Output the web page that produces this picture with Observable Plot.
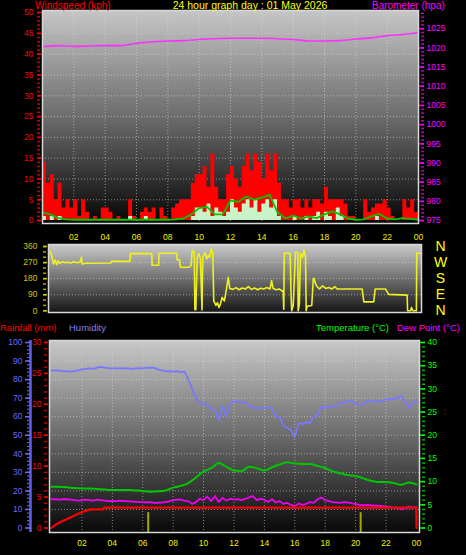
<!DOCTYPE html>
<html><head><meta charset="utf-8">
<script src="https://cdn.jsdelivr.net/npm/d3@7"></script>
<script src="https://cdn.jsdelivr.net/npm/@observablehq/plot@0.6"></script>
<style>
html,body{margin:0;padding:0;background:#000;}
#chart{position:relative;width:466px;height:555px;background:#000;overflow:hidden;font-family:"Liberation Sans",Arial,sans-serif;}
#chart svg{position:absolute;left:0;top:0;}
.t{position:absolute;font-size:10px;line-height:11px;white-space:nowrap;}
</style></head><body><div id="chart"></div>
<script>
// ---------- data ----------
const titleMain = "24 hour graph day : 01 May 2026";
// wind gust (kph), every 15 minutes from 00:00
const windGust = [14,9,11,5, 9,3,5,3, 5,1,5,2, 0,1,0,3, 3,2,0,1, 0,0,5,1, 0,2,3,2, 3,0,3,1,
  0,3,4,5, 5,5,9,11, 11,13,8,16, 8,5,5,11, 13,10,8,13, 16,12,16,14, 10,16,12,16, 9,5,5,3,
  5,5,3,5, 3,5,5,4, 8,5,5,5, 5,4,1,1, 0,0,5,2, 3,4,4,5, 3,1,0,0, 5,3,5,2];
// wind speed (kph), every 15 minutes
const windSpeed = [1,0,1,0, 1,0,0,0, 0,0,0,0, 0,0,0,0, 0,0,0,0, 0,0,1,0, 0,0,1,0, 0,0,0,0,
  0,0,0,0, 0,0,1,3, 3,2,4,1, 3,2,1,2, 5,3,2,4, 5,3,5,2, 4,5,3,5, 1,0,0,0,
  1,0,0,1, 0,1,2,0, 2,1,0,3, 1,0,0,0, 0,0,0,0, 0,1,0,0, 0,0,0,0, 0,0,0,0];
// average wind (kph), every 30 minutes 00:00..24:00
const windAvg = [2.0,1.5,0.6,0.3,0.2,0.2,0.2,0.2,0.2,0.2,0.2,0.2,0.2,0.2,0.2,0.2,0.2,0.3,0.5,1.5,
  3.0,3.3,1.5,1.5,4.8,4.5,5.8,5.0,5.5,6.2,2.0,0.5,1.2,0.5,1.0,0.6,1.5,2.2,1.5,0.5,
  0.2,0.3,1.0,1.6,0.5,0.3,0.6,0.4,0.2];
// barometer (hPa), hourly 00..24
const baroHourly = [1020.3,1020.6,1020.4,1020.5,1020.6,1020.6,1021.2,1021.6,1021.8,1021.9,1022.2,1022.4,
  1022.5,1022.5,1022.5,1022.4,1022.2,1021.8,1021.8,1021.9,1022.3,1022.6,1023.2,1023.5,1024.0];
// wind direction (degrees) at given hours
const dirHours = [0,0.1,0.2,0.3,0.4,0.5,0.6,0.75,0.9,1.1,1.3,1.5,1.7,1.9,2.0,2.05,2.3,3.9,3.95,5.15,5.17,
  6.55,6.57,7.0,7.02,8.17,8.19,8.35,8.4,8.95,9.05,9.1,9.16,9.3,9.34,9.4,9.49,9.6,9.7,9.8,9.85,10.0,10.1,10.2,
  10.3,10.4,10.5,10.56,10.7,10.8,10.9,11.0,11.1,11.25,11.4,11.5,11.6,11.8,12.0,12.2,12.4,12.6,12.8,13.0,13.2,
  13.4,13.6,13.8,14.0,14.2,14.3,14.4,14.6,14.8,15.0,15.05,15.09,15.12,15.5,15.56,15.6,15.7,15.85,16.0,16.02,
  16.1,16.17,16.3,16.4,16.5,16.54,16.6,16.9,17.0,17.03,17.2,17.4,17.6,17.8,18.0,18.2,18.4,18.54,20.16,20.27,
  20.91,21.0,21.67,21.75,21.88,23.07,23.1,23.3,23.35,23.45,23.67,23.69,24.0];
const dirDegrees = [330,300,262,285,258,280,265,275,270,272,268,275,270,272,300,262,266,268,277,277,320,
  320,255,255,322,322,285,285,244,244,250,255,338,330,6,6,300,320,290,5,300,325,290,310,
  300,347,320,56,30,45,19,40,75,55,131,187,125,120,130,118,128,122,135,120,128,
  118,126,122,130,122,169,125,118,122,110,115,9,322,322,94,0,30,328,328,0,
  40,320,300,340,300,0,25,30,178,182,140,122,140,125,130,122,135,122,122,50,
  50,122,122,110,92,88,0,0,19,0,0,322,322];
// humidity (%), every 15 minutes 00:00..24:00
const humidity = [85,84.8,85,84.5, 84.5,84.3,84.5,85, 85.5,85.8,86,85.8, 86.5,86.8,86.5,86.2,
  86,86,86.2,86, 86,85.8,86,86.2, 86,86.3,86.5,86.3, 85.5,85,84.5,84.5, 84.3,84.5,84,84.3,
  80,75,70,67.8, 66.5,66.5,64,63.5, 58,66,60,67.5, 68,68.3,68,67.5, 66,64.6,64.6,64.6,
  64.6,65,64.5,60, 60,55,54,52.8, 49,56.5,56,57, 56.5,60,61,65.5, 65,65,65.5,66,
  67.5,67.5,68.5,68.5, 67,66.5,66.6,68.5, 68.5,68,68.5,68.5, 69.4,69.4,69.4,70, 71,68,64.6,68, 68];
// temperature (°C), every 30 minutes 00:00..24:00
const temperature = [8.9,8.9,8.8,8.6,8.5,8.5,8.4,8.3,8.2,8.2,8.2,8.1,8.0,7.8,7.9,8.1,8.7,9.1,9.7,10.9,
  12.2,12.9,14.0,13.2,12.4,12.3,13.2,12.9,12.4,13.1,13.7,14.2,13.9,13.8,13.8,13.4,12.9,12.2,11.8,11.4,
  11.2,10.7,10.2,9.9,9.9,9.7,9.3,9.8,9.4];
// dew point (°C), every 15 minutes 00:00..24:00
const dewPoint = [6.2,6.2,6.1,6.2, 6.2,6.1,6.0,5.9, 6.0,6.1,6.0,5.9, 6.1,6.0,5.9,5.8, 5.8,5.8,5.9,5.8,
  5.8,5.7,5.7,5.6, 5.6,5.5,5.6,5.4, 5.4,5.5,5.6,5.8, 6.0,6.1,6.1,5.9, 5.8,5.2,5.6,6.3,
  6.0,6.8,5.8,6.9, 5.6,6.5,5.9,6.3, 6.1,6.2,6.0,6.3, 6.6,6.9,6.0,6.3, 6.1,5.6,6.2,5.5,
  5.8,5.2,5.4,5.0, 4.6,5.3,5.0,5.2, 5.6,5.4,6.2,6.6, 6.0,5.8,5.6,5.5, 5.4,5.6,5.5,5.3,
  5.2,5.0,4.9,5.0, 4.9,4.8,4.8,4.7, 4.6,4.5,4.4,4.4, 4.0,4.3,4.6,4.4, 4.5];
// rainfall (mm, cumulative)
const rainHours = [0,0.25,0.5,0.75,1,1.25,1.5,1.75,2,2.25,2.5,3.4,3.45,24,24];
const rainMm = [0,0.5,0.85,1.15,1.4,1.7,2.0,2.3,2.55,2.75,3.0,3.0,3.3,3.3,0];
// olive markers in the lower panel (hour, top in °C units)
const markerHours = [6.36, 20.33];
const markerTop = [3.3, 3.3];

const hourTicks = [2,4,6,8,10,12,14,16,18,20,22,24];
const windTicks = [0,5,10,15,20,25,30,35,40,45,50];
const baroTicks = [975,980,985,990,995,1000,1005,1010,1015,1020,1025];
const dirTicks = [0,90,180,270,360];
const compass = ["N","E","S","W","N"];
const humTicks = [0,10,20,30,40,50,60,70,80,90,100];
const rainTicks = [0,5,10,15,20,25,30];
const tempTicks = [0,5,10,15,20,25,30,35,40];

// ---------- helpers ----------
const W = 466, H = 555;
const font = {background:"transparent", fontFamily:"'Liberation Sans',Arial,sans-serif", fontSize:"8.5px", overflow:"visible"};
const gradient = (id, stops) => () => {
  const defs = d3.create("svg:defs");
  const g = defs.append("linearGradient").attr("id", id).attr("x1",0).attr("y1",0).attr("x2",0).attr("y2",1);
  stops.forEach(([o,c]) => g.append("stop").attr("offset",o).attr("stop-color",c));
  return defs.node();
};
const grid = {stroke:"#e0e0e0", strokeOpacity:0.55, strokeDasharray:"1,2"};
const hourFmt = h => String(h % 24).padStart(2,"0");
// minor tick marks only (no labels)
const minor = (ticks, o) => Plot.axisY(ticks, {tickSize:3, fill:"none", strokeWidth:1.5, label:null, ...o});

// ---------- panel 1 : wind + barometer ----------
const windRows = windGust.map((g,i) => ({t:i*0.25, gust:g, speed:windSpeed[i]}));
windRows.push({t:24, gust:windGust[windGust.length-1], speed:windSpeed[windSpeed.length-1]});
const avgRows = windAvg.map((v,i) => ({t:i*0.5, v}));
const baroLo = 975, baroHi = 1029.2;
const baroToWind = b => (b - baroLo) * 50 / (baroHi - baroLo);
const baroRows = baroHourly.map((b,i) => ({t:i, w:baroToWind(b)}));

const p1 = Plot.plot({
  width: W, height: H, marginTop: 10, marginBottom: 332, marginLeft: 42, marginRight: 48,
  x: {domain: [0,24], label: null}, y: {domain: [-0.7, 50.5], label: null},
  style: font,
  marks: [
    gradient("g1", [[0,"#c6c6c6"],[0.5,"#6c6c6c"],[1,"#050505"]]),
    Plot.frame({fill:"url(#g1)"}),
    Plot.gridX(hourTicks.slice(0,-1), grid),
    Plot.gridY(windTicks.slice(1,-1), grid),
    Plot.areaY(windRows, {x:"t", y:"gust", curve:"step-after", fill:"#ff0000"}),
    Plot.areaY(windRows, {x:"t", y:"speed", curve:"step-after", fill:"#c8f4c8"}),
    Plot.line(avgRows, {x:"t", y:"v", stroke:"#00c800", strokeWidth:1.8}),
    Plot.line(baroRows, {x:"t", y:"w", stroke:"#ff30ff", strokeWidth:1.6, curve:"monotone-x"}),
    Plot.frame({stroke:"#d8d8d8", strokeWidth:1.5}),
    minor(d3.range(0, 51, 1), {anchor:"left", dx:-2, stroke:"#d00000"}),
    Plot.axisY(windTicks, {anchor:"left", tickSize:5, tickPadding:4, stroke:"#ff0000", fill:"#ff0000", strokeWidth:1.5, label:null}),
    minor(d3.range(975, 1030, 1).map(baroToWind), {anchor:"right", dx:2, stroke:"#c000c0"}),
    Plot.axisY(baroTicks.map(baroToWind), {anchor:"right", tickSize:5, tickPadding:3, stroke:"#ff00ff", fill:"#ff00ff", strokeWidth:1.5,
      tickFormat: w => String(Math.round(baroLo + w * (baroHi - baroLo) / 50)), label:null}),
    Plot.axisX(hourTicks, {anchor:"bottom", tickSize:0, tickPadding:10, tickFormat:hourFmt, fill:"#f0f000", label:null})
  ]
});

// ---------- panel 2 : wind direction ----------
const dirRows = dirHours.map((t,i) => ({t, d:dirDegrees[i]}));
const p2 = Plot.plot({
  width: W, height: H, marginTop: 244, marginBottom: 243, marginLeft: 48, marginRight: 45,
  x: {domain: [-0.13, 24], label: null}, y: {domain: [-9.6, 371.3], label: null},
  style: font,
  marks: [
    gradient("g2", [[0,"#cacaca"],[0.5,"#707070"],[1,"#151515"]]),
    Plot.frame({fill:"url(#g2)"}),
    Plot.gridY(dirTicks.slice(1,-1), grid),
    Plot.line(dirRows, {x:"t", y:"d", stroke:"#f0f020", strokeWidth:1.6}),
    Plot.frame({stroke:"#d8d8d8", strokeWidth:1.5}),
    minor(d3.range(0, 361, 30), {anchor:"left", dx:-2, stroke:"#a8a800"}),
    Plot.axisY(dirTicks, {anchor:"left", tickSize:4, tickPadding:6, dx:-1, stroke:"#c8c800", fill:"#c8c800", strokeWidth:1.5, label:null}),
    Plot.axisY(dirTicks, {anchor:"right", tickSize:0, tickPadding:19, textAnchor:"middle", fill:"#ffff00", fontSize:14,
      tickFormat:(d) => compass[dirTicks.indexOf(d)], label:null})
  ]
});

// ---------- panel 3 : rain, humidity, temperature, dew point ----------
const humToC = v => v * 0.4;
const rainToC = v => v * 40 / 30;
const humRows = humidity.map((v,i) => ({t:i*0.25, c:humToC(v)}));
const tempRows = temperature.map((v,i) => ({t:i*0.5, c:v}));
const dewRows = dewPoint.map((v,i) => ({t:i*0.25, c:v}));
const rainRows = rainHours.map((t,i) => ({t, c:rainToC(rainMm[i])}));
const markerRows = markerHours.map((t,i) => ({t, top:markerTop[i]}));
const x3 = [-0.13, 24.2], y3 = [-0.97, 40.43];

const p3 = Plot.plot({
  width: W, height: H, marginTop: 340, marginBottom: 23, marginLeft: 49, marginRight: 47,
  x: {domain: x3, label: null}, y: {domain: y3, label: null},
  style: font,
  marks: [
    gradient("g3", [[0,"#c8c8c8"],[0.5,"#6a6a6a"],[1,"#080808"]]),
    Plot.frame({fill:"url(#g3)"}),
    Plot.gridX(hourTicks.slice(0,-1), grid),
    Plot.gridY(humTicks.slice(1,-1).map(humToC), grid),
    Plot.ruleX(markerRows, {x:"t", y1:y3[0], y2:"top", stroke:"#a8a800", strokeWidth:2}),
    Plot.line(humRows, {x:"t", y:"c", stroke:"#7878ff", strokeWidth:1.8}),
    Plot.line(tempRows, {x:"t", y:"c", stroke:"#00c800", strokeWidth:2, curve:"monotone-x"}),
    Plot.line(dewRows, {x:"t", y:"c", stroke:"#f000f0", strokeWidth:1.8}),
    Plot.line(rainRows, {x:"t", y:"c", stroke:"#ff0000", strokeWidth:2.2}),
    Plot.frame({stroke:"#d8d8d8", strokeWidth:1.5}),
    // humidity axis (far left)
    Plot.ruleX([x3[0]], {dx:-19, stroke:"#6060e8", strokeWidth:2.5}),
    minor(d3.range(0, 101, 2).map(humToC), {anchor:"left", dx:-19, stroke:"#6060e0", strokeWidth:1.2}),
    Plot.axisY(humTicks.map(humToC), {anchor:"left", tickSize:5, tickPadding:3, dx:-19, stroke:"#6a6aff", fill:"#6a6aff", strokeWidth:1.5,
      tickFormat: c => String(Math.round(c / 0.4)), label:null}),
    // rainfall axis
    minor(d3.range(0, 31, 1).map(rainToC), {anchor:"left", dx:-2, stroke:"#c00000"}),
    Plot.axisY(rainTicks.map(rainToC), {anchor:"left", tickSize:4, tickPadding:3, dx:-1, stroke:"#ff0000", fill:"#ff0000", strokeWidth:1.5,
      tickFormat: c => String(Math.round(c * 30 / 40)), label:null}),
    // temperature axis (right)
    minor(d3.range(0, 41, 1), {anchor:"right", dx:2, stroke:"#00b000"}),
    Plot.axisY(tempTicks, {anchor:"right", tickSize:5, tickPadding:3, stroke:"#00ff00", fill:"#00ff00", strokeWidth:1.5, label:null}),
    Plot.axisX(hourTicks, {anchor:"bottom", tickSize:0, tickPadding:7, tickFormat:hourFmt, fill:"#f0f000", label:null})
  ]
});

const chart = document.getElementById("chart");
chart.append(p1, p2, p3);

// ---------- titles ----------
const titles = [
  {text:"Windspeed (kph)", left:35, top:0, color:"#ff0000"},
  {text:titleMain, center:250, top:0, color:"#ffff00", size:10.5},
  {text:"Barometer (hpa)", left:372, top:0, color:"#ff00ff"},
  {text:"Rainfall (mm)", left:0, top:322, color:"#ff0000", size:9.5},
  {text:"Humidity", left:69, top:322, color:"#8080ff", size:9.5},
  {text:"Temperature (°C)", right:466-389, top:322, color:"#00ff00", size:9.5},
  {text:"Dew Point (°C)", left:397, top:322, color:"#ff00ff", size:9.5}
];
for (const t of titles) {
  const d = document.createElement("div");
  d.className = "t";
  d.textContent = t.text;
  d.style.color = t.color;
  d.style.top = t.top + "px";
  if (t.size) d.style.fontSize = t.size + "px";
  if (t.left != null) d.style.left = t.left + "px";
  if (t.right != null) d.style.right = t.right + "px";
  if (t.center != null) { d.style.left = t.center + "px"; d.style.transform = "translateX(-50%)"; }
  chart.append(d);
}
</script></body></html>
